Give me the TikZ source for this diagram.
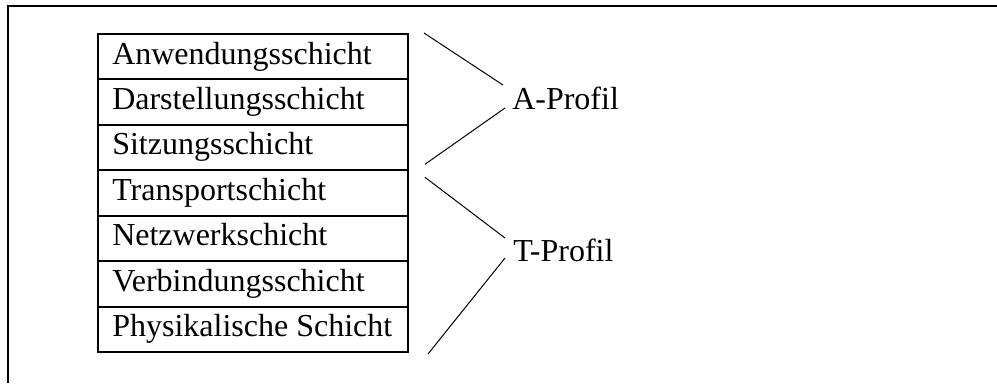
\documentclass[tikz,border=0pt]{standalone}
\usepackage{fontspec}
\setmainfont{Liberation Serif}
\usetikzlibrary{calc}
\begin{document}
\begin{tikzpicture}[x=0.75pt,y=-0.75pt,
  layerbox/.style={draw,line width=1.5pt,minimum width=232.5pt,minimum height=34.05pt,
    inner sep=0pt,anchor=north west},
  layertext/.style={anchor=base west,inner sep=0pt,font=\fontsize{24}{28}\selectfont},
  proftext/.style={anchor=base west,inner sep=0pt,font=\fontsize{24}{28}\selectfont},
  brace/.style={line width=0.75pt}]
\useasboundingbox (0,0) rectangle (997,383);
% frame
\draw[line width=1.5pt] (997,6) -- (8,6) -- (8,383);
% layer stack
\foreach \i/\t in {0/Anwendungsschicht,1/Darstellungsschicht,2/Sitzungsschicht,
  3/Transportschicht,4/Netzwerkschicht,5/Verbindungsschicht,6/Physikalische Schicht}{
  \node[layerbox] (l\i) at (97,{33+\i*45.43}) {};
  \node[layertext] (t\i) at ($(l\i.north west)+(15,31)$) {\t};
}
% profiles
\node[proftext] (ap) at (512,109) {A-Profil};
\node[proftext] (tp) at (513,261) {T-Profil};
\coordinate (a1) at ($(l0.north east)+(15,0)$);
\coordinate (a2) at ($(l2.south east)+(16,-7)$);
\coordinate (b1) at ($(l3.north east)+(16,8)$);
\coordinate (b2) at ($(l6.south east)+(19,1)$);
\draw[brace] (a1) -- ($(ap.base west)+(-9,-24)$);
\draw[brace] (a2) -- ($(ap.base west)+(-7,-1)$);
\draw[brace] (b1) -- ($(tp.base west)+(-8,-23)$);
\draw[brace] (b2) -- ($(tp.base west)+(-8,-3)$);
\end{tikzpicture}
\end{document}
